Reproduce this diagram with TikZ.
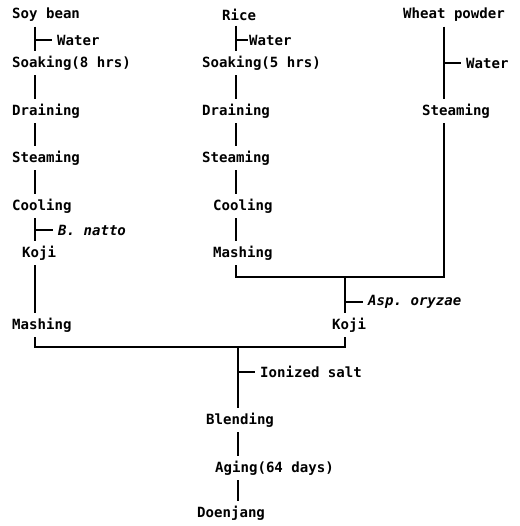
\documentclass[tikz,border=0pt]{standalone}
\usepackage{fontspec}
\setmonofont{DejaVu Sans Mono}
\usetikzlibrary{positioning}
\tikzset{%
  mystep/.style={anchor=west, inner xsep=0pt, inner ysep=4pt, font=\ttfamily\bfseries\fontsize{12}{14}\selectfont},
  myadd/.style={mystep},
  myital/.style={mystep, font=\ttfamily\bfseries\itshape\fontsize{12}{14}\selectfont},
  myline/.style={line width=0.9pt},
  mytick/.style={myline, shorten >=4pt}
}
\begin{document}
\begin{tikzpicture}[x=0.03cm, y=-0.03cm]
  \useasboundingbox (0,0) rectangle (519,526);
  % columns
  \coordinate (c1) at (35,0);
  \coordinate (c2) at (236,0);
  \coordinate (c3) at (444,0);
  \coordinate (c4) at (345,0);
  \coordinate (c5) at (238,0);
  % soy bean
  \node[mystep] (sb) at (12,15) {Soy bean};
  \node[mystep] (sk1) at (12,63) {Soaking(8 hrs)};
  \node[mystep] (dr1) at (12,111) {Draining};
  \node[mystep] (st1) at (12,158) {Steaming};
  \node[mystep] (co1) at (12,206) {Cooling};
  \node[mystep] (kj1) at (22,253) {Koji};
  \node[mystep] (ms1) at (12,325) {Mashing};
  \node[myadd] (w1) at (57,40) {Water};
  \node[myital] (bn) at (58,230) {B. natto};
  % rice
  \node[mystep] (ri) at (222,15) {Rice};
  \node[mystep] (sk2) at (202,63) {Soaking(5 hrs)};
  \node[mystep] (dr2) at (202,111) {Draining};
  \node[mystep] (st2) at (202,158) {Steaming};
  \node[mystep] (co2) at (213,206) {Cooling};
  \node[mystep] (ms2) at (213,253) {Mashing};
  \node[myadd] (w2) at (249,40) {Water};
  % wheat
  \node[mystep] (wp) at (403,15) {Wheat powder};
  \node[mystep] (st3) at (422,111) {Steaming};
  \node[myadd] (w3) at (466,63) {Water};
  % merge
  \node[mystep] (kj2) at (332,325) {Koji};
  \node[myital] (ao) at (368,302) {Asp. oryzae};
  \node[mystep] (bl) at (206,420) {Blending};
  \node[mystep] (ag) at (215,468) {Aging(64 days)};
  \node[mystep] (dj) at (197,513) {Doenjang};
  \node[myadd] (is) at (260,372) {Ionized salt};
  \coordinate (jt) at (345,277);
  \coordinate (jb) at (238,347);

  \draw[myline] (c1 |- sb.south) -- (c1 |- sk1.north);
  \draw[mytick] (c1 |- w1) -- (w1.west);
  \draw[myline] (c1 |- sk1.south) -- (c1 |- dr1.north);
  \draw[myline] (c1 |- dr1.south) -- (c1 |- st1.north);
  \draw[myline] (c1 |- st1.south) -- (c1 |- co1.north);
  \draw[myline] (c1 |- co1.south) -- (c1 |- kj1.north);
  \draw[mytick] (c1 |- bn) -- (bn.west);
  \draw[myline] (c1 |- kj1.south) -- (c1 |- ms1.north);

  \draw[myline] (c2 |- ri.south) -- (c2 |- sk2.north);
  \draw[mytick, shorten >=0.5pt] (c2 |- w2) -- (w2.west);
  \draw[myline] (c2 |- sk2.south) -- (c2 |- dr2.north);
  \draw[myline] (c2 |- dr2.south) -- (c2 |- st2.north);
  \draw[myline] (c2 |- st2.south) -- (c2 |- co2.north);
  \draw[myline] (c2 |- co2.south) -- (c2 |- ms2.north);

  \draw[myline] (c3 |- wp.south) -- (c3 |- st3.north);
  \draw[mytick] (c3 |- w3) -- (w3.west);

  \draw[myline] (c2 |- ms2.south) |- (jt) -| (c3 |- st3.south);
  \draw[myline] (jt) -- (c4 |- kj2.north);
  \draw[mytick] (c4 |- ao) -- (ao.west);

  \draw[myline] (c1 |- ms1.south) |- (jb) -| (c4 |- kj2.south);
  \draw[myline] (jb) -- (c5 |- bl.north);
  \draw[mytick] (c5 |- is) -- (is.west);
  \draw[myline] (c5 |- bl.south) -- (c5 |- ag.north);
  \draw[myline] (c5 |- ag.south) -- (c5 |- dj.north);
\end{tikzpicture}
\end{document}
